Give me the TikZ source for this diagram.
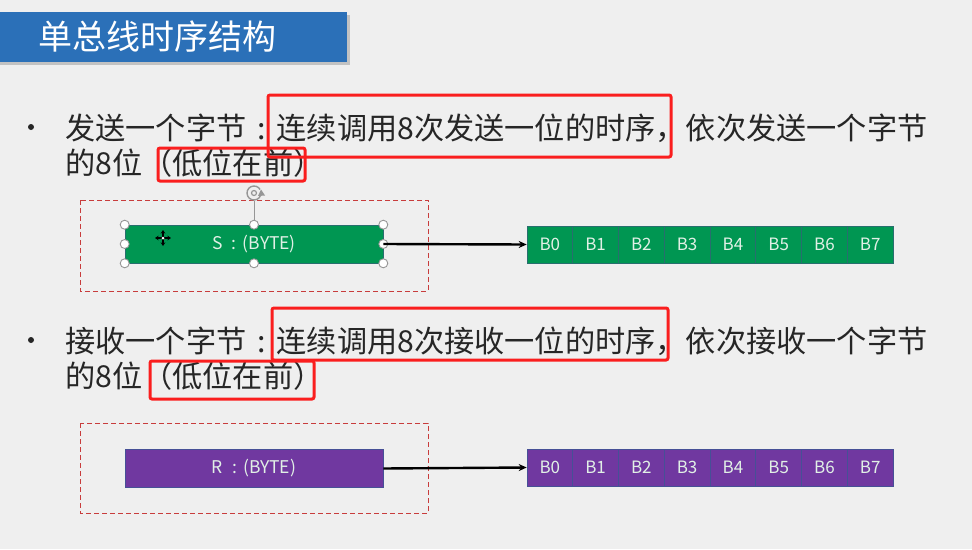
\documentclass[tikz,border=0pt]{standalone}
\usepackage{fontspec}
\setmainfont{Noto Sans CJK SC}
\usetikzlibrary{arrows.meta}
\definecolor{pagebg}{RGB}{239,239,239}
\definecolor{titleblue}{RGB}{43,112,184}
\definecolor{bytegreen}{RGB}{0,150,82}
\definecolor{greenedge}{RGB}{40,110,110}
\definecolor{bytepurple}{RGB}{112,56,160}
\definecolor{purpleedge}{RGB}{70,80,150}
\definecolor{hilite}{RGB}{250,30,30}
\definecolor{bodytext}{RGB}{38,38,38}
\definecolor{frame}{RGB}{200,60,60}
\definecolor{celltext}{RGB}{225,240,230}
\definecolor{handle}{RGB}{150,150,150}
% full-width colon with the dots centred in its em box
\newcommand\midcolon{\makebox[1em]{:}}

\begin{document}
\begin{tikzpicture}[x=1pt,y=-1pt,
  body/.style={anchor=west, inner sep=0, font=\fontsize{30.2}{34}\selectfont, text=bodytext},
  hibox/.style={draw=hilite, line width=3pt, rounded corners=2pt},
  groupframe/.style={draw=frame, dashed, line width=0.7pt, dash pattern=on 5pt off 3pt},
  bytebox/.style={minimum width=258pt, minimum height=38pt, inner sep=0,
                  font=\fontsize{17.5}{20}\selectfont, text=celltext},
  cell/.style={minimum width=45.75pt, minimum height=37pt, inner sep=0,
               font=\fontsize{17}{20}\selectfont, text=celltext, line width=0.6pt},
  feed/.style={line width=2.4pt, -{Stealth[length=8pt,width=7pt]}},
  knob/.style={circle, draw=handle, fill=white, line width=0.9pt, minimum size=9pt, inner sep=0},
  bullet/.style={circle, fill=bodytext, minimum size=6pt, inner sep=0}
]
\useasboundingbox (0,0) rectangle (972,549);
\fill[pagebg] (0,0) rectangle (972,549);

% title bar with drop shadow
\fill[black!45, opacity=0.45] (0,15) rectangle (350,65);
\fill[titleblue] (0,12) rectangle (347,62);
\node[anchor=west, inner sep=0, text=white, font=\fontsize{34}{38}\selectfont] (title) at (38,37) {单总线时序结构};

% ---------- sending a byte ----------
\node[bullet] (b1) at (31,127) {};
\node[body] (s1) at (65,128) {发送一个字节\midcolon 连续调用8次发送一位的时序，依次发送一个字节};
\node[body] (s2) at (65,163) {的8位（低位在前）};
\draw[hibox] (268,95) rectangle (671,157);
\draw[hibox] (158,148) rectangle (305,181);

\draw[groupframe] (80,200) rectangle (428,291);
\node[bytebox, fill=bytegreen, draw=greenedge, line width=0.6pt] (sb) at (254,244) {S\,\midcolon(BYTE)};

% selection handles of the send box
\draw[handle, line width=0.9pt] (sb.north) -- (254,201);
\draw[handle, line width=1.4pt] (254,193) ++(20:7) arc (20:330:7);
\draw[handle, line width=1.2pt] (254,193) circle (2.5);
\fill[handle] (261,189.5) -- (265,195.5) -- (258,196) -- cycle;
\foreach \a in {north west,north,north east,west,east,south west,south,south east}
  \node[knob] at (sb.\a) {};

% move cursor inside the send box
\coordinate (cur) at (163,238);
\foreach \d in {(8,0),(-8,0),(0,8),(0,-8)}
  \draw[black, line width=1.3pt, -{Stealth[length=3.5pt,width=4.5pt]}] (cur) -- ++\d;
\fill[white] (cur) circle (1.5pt);

\foreach \i in {0,...,7}
  \node[cell, fill=bytegreen, draw=greenedge] (sc\i) at ({527+45.75*(\i+0.5)},244.5) {B\i};
\draw[feed] (sb.east) -- (sc0.west);

% ---------- receiving a byte ----------
\node[bullet] (b2) at (31,340) {};
\node[body] (r1) at (65,341) {接收一个字节\midcolon 连续调用8次接收一位的时序，依次接收一个字节};
\node[body] (r2) at (65,376) {的8位（低位在前）};
\draw[hibox] (272,308) rectangle (668,360);
\draw[hibox] (150,361) rectangle (314,399);

\draw[groupframe] (80,423) rectangle (428,513);
\node[bytebox, fill=bytepurple, draw=purpleedge, line width=0.6pt] (rb) at (254,468.5) {R\,\midcolon(BYTE)};

\foreach \i in {0,...,7}
  \node[cell, fill=bytepurple, draw=purpleedge] (rc\i) at ({527+45.75*(\i+0.5)},467.5) {B\i};
\draw[feed] (rb.east) -- (rc0.west);
\end{tikzpicture}
\end{document}
